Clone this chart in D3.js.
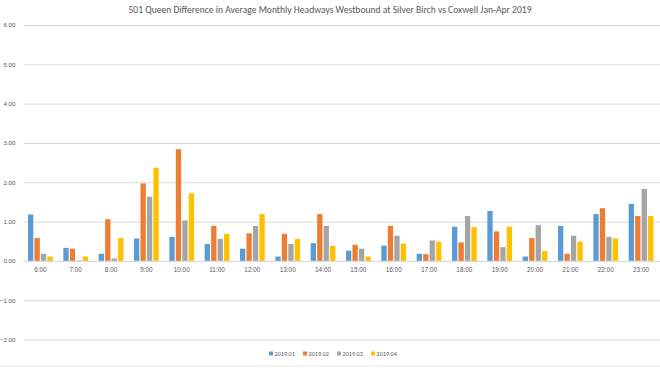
<!DOCTYPE html>
<html>
<head>
<meta charset="utf-8">
<script src="https://cdn.jsdelivr.net/npm/d3@7"></script>
<style>
  body { margin: 0; background: #fff; }
  svg { font-family: Calibri, Carlito, "Liberation Sans", "Open Sans", sans-serif; }
</style>
</head>
<body>
<svg id="chart"></svg>
<script>
const hours = ["6:00", "7:00", "8:00", "9:00", "10:00", "11:00", "12:00", "13:00", "14:00",
  "15:00", "16:00", "17:00", "18:00", "19:00", "20:00", "21:00", "22:00", "23:00"];
const months = ["2019.01", "2019.02", "2019.03", "2019.04"];
const jan = [1.18, 0.33, 0.18, 0.57, 0.61, 0.43, 0.31, 0.11, 0.45, 0.26, 0.39, 0.18, 0.87, 1.27, 0.11, 0.89, 1.19, 1.45];
const feb = [0.58, 0.31, 1.06, 1.97, 2.84, 0.89, 0.70, 0.69, 1.19, 0.41, 0.89, 0.17, 0.47, 0.75, 0.58, 0.18, 1.34, 1.14];
const mar = [0.18, 0.01, 0.06, 1.63, 1.03, 0.56, 0.89, 0.43, 0.89, 0.31, 0.64, 0.52, 1.14, 0.35, 0.91, 0.64, 0.61, 1.83];
const apr = [0.11, 0.11, 0.58, 2.37, 1.72, 0.69, 1.19, 0.56, 0.38, 0.11, 0.44, 0.49, 0.86, 0.87, 0.25, 0.49, 0.57, 1.14];
const yTicks = [-2, -1, 0, 1, 2, 3, 4, 5, 6];
const colors = ["#5B9BD5", "#ED7D31", "#A5A5A5", "#FFC000"];

const series = [jan, feb, mar, apr];
const w = 660, h = 368;
const svg = d3.select("#chart").attr("width", w).attr("height", h);

const x = d3.scaleBand().domain(hours).range([22.7, 658.7]).paddingInner(0.3).paddingOuter(0.15);
const xs = d3.scaleBand().domain(months).range([0, x.bandwidth()]).paddingInner(0.18);
const y = d3.scaleLinear().domain([-2, 6]).range([339.5, 25]);

svg.append("text")
  .attr("x", 330).attr("y", 12.5)
  .attr("text-anchor", "middle")
  .attr("font-size", 9.6)
  .attr("fill", "#595959")
  .text("501 Queen Difference in Average Monthly Headways Westbound at Silver Birch vs Coxwell Jan-Apr 2019");

const yAxis = svg.append("g")
  .attr("transform", "translate(24,0)")
  .call(d3.axisLeft(y).tickValues(yTicks).tickFormat(d3.format(".2f")).tickSize(-636).tickPadding(8.5));
yAxis.select(".domain").remove();
yAxis.selectAll(".tick line").attr("stroke", "#D9D9D9");
yAxis.selectAll(".tick text").attr("fill", "#595959").attr("font-size", 6.2);

const groups = svg.append("g").selectAll("g")
  .data(series)
  .join("g")
  .attr("fill", (d, i) => colors[i]);

groups.selectAll("rect")
  .data((d, i) => d.map((v, j) => ({ v, hour: hours[j], m: months[i] })))
  .join("rect")
  .attr("x", (d) => x(d.hour) + xs(d.m))
  .attr("width", xs.bandwidth())
  .attr("y", (d) => y(Math.max(0, d.v)))
  .attr("height", (d) => Math.abs(y(d.v) - y(0)));

const xAxis = svg.append("g")
  .attr("transform", `translate(0,${y(0)})`)
  .call(d3.axisBottom(x).tickSize(0).tickPadding(7));
xAxis.select(".domain").attr("stroke", "#D9D9D9");
xAxis.selectAll(".tick text").attr("fill", "#595959").attr("font-size", 6.4);

const legend = svg.append("g").attr("transform", "translate(269,354)");
const items = legend.selectAll("g")
  .data(months)
  .join("g")
  .attr("transform", (d, i) => `translate(${i * 34},0)`);
items.append("rect")
  .attr("x", 0).attr("y", -2.5)
  .attr("width", 4).attr("height", 4)
  .attr("fill", (d, i) => colors[i]);
items.append("text")
  .attr("x", 5.5).attr("y", 2)
  .attr("font-size", 6.2)
  .attr("fill", "#595959")
  .text((d) => d);

svg.append("line")
  .attr("x1", 0).attr("x2", w)
  .attr("y1", 366).attr("y2", 366)
  .attr("stroke", "#E6E6E6");
</script>
</body>
</html>
